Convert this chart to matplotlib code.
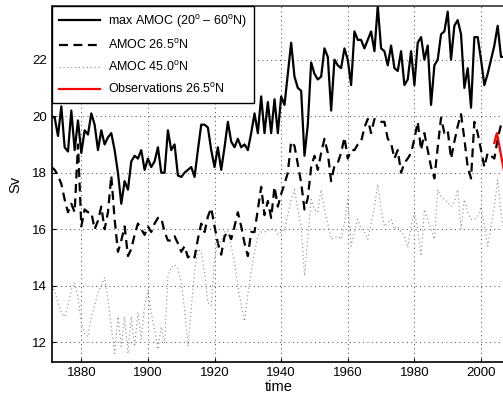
import matplotlib
matplotlib.use('Agg')
import matplotlib.pyplot as plt
import numpy as np

# yearly model output, 1871-2007
years = np.arange(1871, 2008)

max_amoc = [
    20.0, 19.95, 19.3, 20.35, 18.9, 18.75, 20.2, 18.8, 19.85, 18.7,
    19.5, 19.35, 20.1, 19.7, 18.8, 19.5, 19.0, 19.25, 19.4, 18.8,
    18.0, 16.9, 17.7, 17.4, 18.4, 18.6, 18.5, 18.8, 18.1, 18.5,
    18.2, 18.4, 18.9, 18.0, 18.0, 19.5, 18.8, 19.0, 17.9, 17.85,
    18.0, 18.1, 18.2, 17.85, 18.8, 19.7, 19.7, 19.6, 18.8, 18.2,
    18.9, 18.1, 18.9, 19.8, 19.1, 18.9, 19.2, 18.9, 19.0, 18.8,
    19.4, 20.1, 19.4, 20.7, 19.4, 20.5, 19.4, 20.6, 19.4, 20.7,
    20.4, 21.5, 22.6, 21.4, 21.0, 20.9, 18.6, 19.7, 21.9, 21.5,
    21.3, 21.4, 22.4, 22.1, 20.2, 22.0, 21.8, 21.7, 22.4, 22.0,
    21.1, 23.0, 22.7, 22.7, 22.4, 22.7, 23.0, 22.3, 23.9, 22.4,
    22.3, 21.8, 22.5, 21.7, 21.6, 22.3, 21.1, 21.3, 22.3, 21.1,
    22.6, 22.8, 22.0, 22.5, 20.4, 21.8, 22.0, 22.9, 23.0, 23.7,
    22.0, 23.2, 23.4, 22.9, 21.0, 21.7, 20.3, 22.8, 22.8, 22.0,
    21.1, 21.5, 22.0, 22.5, 23.2, 22.1, 22.1,
]

amoc_265 = [
    18.2, 18.1, 17.9, 17.6, 17.05, 16.6, 16.9, 16.6, 19.0, 16.1,
    16.7, 16.6, 16.6, 16.0, 16.3, 16.8, 16.0, 16.6, 17.9, 16.35,
    15.2, 15.6, 16.1, 15.05, 15.3, 15.8, 16.2, 16.0, 15.8, 16.1,
    15.9, 16.2, 16.4, 16.4, 15.9, 15.6, 15.6, 15.75, 15.5, 15.2,
    15.4, 15.0, 15.1, 15.0, 15.65, 16.2, 15.9, 16.45, 16.75, 16.1,
    15.5, 15.1, 15.75, 15.9, 15.65, 16.1, 16.6, 16.1, 15.5, 15.05,
    15.9, 15.9, 16.7, 17.5, 16.5, 17.0, 16.4, 17.5, 16.8, 17.25,
    17.6, 18.0, 19.1, 18.95, 18.3, 17.65, 16.7, 17.1, 18.2, 18.6,
    18.1, 18.7, 19.2, 18.7, 17.7, 18.25, 18.35, 18.7, 19.25, 18.5,
    18.8, 18.8, 19.0, 19.1, 19.6, 19.9, 19.4, 19.9, 19.85, 19.8,
    19.8, 19.2, 19.05, 18.5, 18.8, 18.0, 18.35, 18.5, 18.7, 19.2,
    19.8, 18.8, 19.4, 18.8, 18.2, 17.8, 18.9, 19.95, 19.4, 19.5,
    18.5, 19.1, 19.65, 20.07, 19.2, 18.2, 17.8, 19.8, 19.4, 18.8,
    18.2, 18.7, 18.6, 18.5, 19.2, 19.7, 19.8,
]

amoc_450 = [
    14.0, 13.8, 13.4, 13.05, 12.9, 13.3, 13.85, 14.1, 13.6, 12.7,
    12.3, 12.2, 12.9, 13.3, 13.75, 14.0, 14.3, 13.5, 12.55, 11.6,
    12.9, 11.85, 12.9, 11.6, 12.9, 11.85, 13.05, 12.1, 13.3, 13.85,
    13.05, 12.45, 11.75, 12.55, 11.95, 14.35, 14.65, 14.75, 14.6, 14.1,
    13.15, 11.85, 13.2, 14.5, 15.3, 15.2, 14.45, 13.4, 13.3, 14.95,
    15.55, 15.55, 15.9, 15.95, 15.4, 14.8, 14.0, 13.3, 12.75, 13.7,
    14.5, 15.2, 15.75, 15.9, 15.9, 15.95, 16.0, 16.0, 15.8, 15.9,
    16.0, 16.5, 17.05, 17.4, 16.7, 16.1, 14.35, 15.65, 17.05, 16.7,
    16.6, 17.4, 16.7, 16.2, 15.65, 15.7, 15.75, 15.65, 16.2, 17.05,
    15.4, 15.9, 16.35, 16.0, 15.9, 15.65, 16.2, 16.8, 17.6, 16.7,
    16.1, 16.25, 16.35, 16.0, 16.1, 15.9, 15.75, 15.35, 16.1, 16.6,
    16.0, 15.05, 16.7, 16.35, 16.0, 15.65, 17.4, 17.15, 17.05, 16.95,
    16.8, 16.95, 17.4, 16.0, 17.05, 16.6, 16.35, 16.35, 16.45, 16.8,
    16.1, 15.4, 16.1, 16.8, 17.75, 16.6, 15.9,
]

# RAPID array observations
obs_time = [2004.0, 2004.5, 2004.8, 2005.8, 2007.0]
obs_val = [19.05, 19.3, 19.4, 18.75, 18.0]

xticks = [1880, 1900, 1920, 1940, 1960, 1980, 2000]
yticks = [12, 14, 16, 18, 20, 22]

plt.rcParams['font.family'] = ['Liberation Sans', 'DejaVu Sans']
plt.rcParams['mathtext.fontset'] = 'custom'
plt.rcParams['mathtext.rm'] = 'Liberation Sans'

fig = plt.figure(figsize=(5.03, 4.01), dpi=100)
ax = fig.add_axes([52 / 503, 39 / 401, 453 / 503, 356 / 401])

ax.plot(years, max_amoc, color='black', lw=1.6, label=r'max AMOC (20$^{\mathrm{o}}$ – 60$^{\mathrm{o}}$N)')
ax.plot(years, amoc_265, color='black', lw=1.6, ls=(0, (4, 2.5)), label=r'AMOC 26.5$^{\mathrm{o}}$N')
ax.plot(years, amoc_450, color='#888888', lw=0.8, ls=(0, (1, 2.5)), label=r'AMOC 45.0$^{\mathrm{o}}$N')
ax.plot(obs_time, obs_val, color='red', lw=1.6, label=r'Observations 26.5$^{\mathrm{o}}$N')

ax.set_xlim(1871.2, 2007.2)
ax.set_ylim(11.3, 23.9)
ax.set_xticks(xticks)
ax.set_yticks(yticks)
ax.tick_params(direction='in', labelsize=9.5, length=3)
ax.grid(True, ls=(0, (1, 3.5)), color='#444444', lw=0.7)
ax.spines['right'].set_visible(False)
for s in ['left', 'bottom', 'top']:
    ax.spines[s].set_linewidth(1.2)
ax.spines['top'].set_color('#333333')

ax.set_xlabel('time', fontsize=10.5, labelpad=1)
ax.set_ylabel('Sv', fontsize=10.5, labelpad=7)

leg = ax.legend(loc='upper left', borderaxespad=0, fontsize=9, handlelength=3.3,
                fancybox=False, framealpha=1, edgecolor='black', borderpad=0.55,
                labelspacing=0.65, handletextpad=0.6)
leg.get_frame().set_linewidth(1.0)

fig.savefig('out.png', dpi=100)
